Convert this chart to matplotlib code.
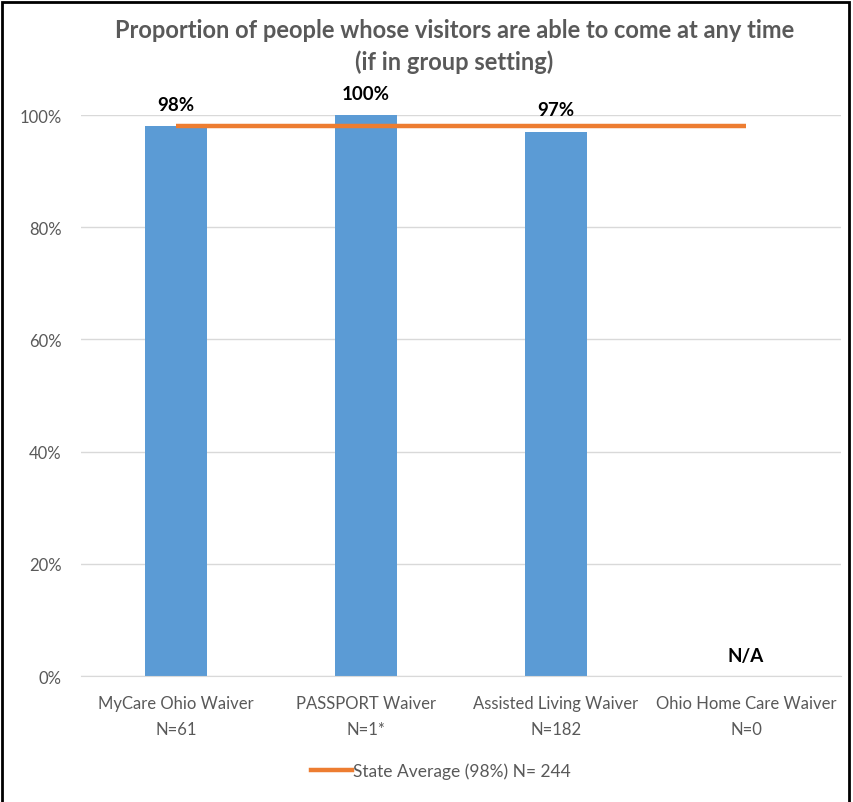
import matplotlib
matplotlib.use("Agg")
import matplotlib.pyplot as plt
from matplotlib.lines import Line2D
from matplotlib.patches import Rectangle

plt.rcParams['font.family'] = ['Lato', 'DejaVu Sans']

categories = ["MyCare Ohio Waiver\nN=61", "PASSPORT Waiver\nN=1*",
              "Assisted Living Waiver\nN=182", "Ohio Home Care Waiver\nN=0"]
values = [0.98, 1.00, 0.97, None]
bar_labels = ["98%", "100%", "97%", "N/A"]
state_avg = 0.98
yticks = [0, 0.2, 0.4, 0.6, 0.8, 1.0]
ytick_labels = ["0%", "20%", "40%", "60%", "80%", "100%"]

fig = plt.figure(figsize=(8.54, 8.03), dpi=100)
ax = fig.add_axes([0.0948, 0.1569, 0.89, 0.6986])

x = list(range(len(categories)))
for i, v in enumerate(values):
    if v is not None:
        ax.bar(i, v, width=0.33, color="#5B9BD5", zorder=2)
        ax.text(i, v + 0.024, bar_labels[i], ha="center", va="bottom",
                fontsize=13.5, fontweight="bold", color="#000000", clip_on=False)
    else:
        ax.text(i, 0.022, bar_labels[i], ha="center", va="bottom",
                fontsize=13.5, fontweight="bold", color="#000000")

ax.plot([x[0], x[-1]], [state_avg, state_avg], color="#ED7D31", lw=3.2,
        solid_capstyle="butt", zorder=3)

ax.set_xlim(-0.5, len(categories) - 0.5)
ax.set_ylim(0, 1)
ax.set_yticks(yticks)
ax.set_yticklabels(ytick_labels)
ax.set_xticks(x)
ax.set_xticklabels(categories, linespacing=1.75)
ax.tick_params(axis="both", length=0, labelsize=12, colors="#595959")
ax.tick_params(axis="x", pad=14)
ax.tick_params(axis="y", pad=14)
ax.grid(axis="y", color="#D9D9D9", lw=1, zorder=0)
for s in ["top", "right", "left"]:
    ax.spines[s].set_visible(False)
ax.spines["bottom"].set_color("#D9D9D9")

fig.text(0.532, 0.962, "Proportion of people whose visitors are able to come at any time",
         ha="center", va="center", fontsize=17, fontweight="bold", color="#595959")
fig.text(0.532, 0.922, "(if in group setting)",
         ha="center", va="center", fontsize=17, fontweight="bold", color="#595959")

handle = Line2D([], [], color="#ED7D31", lw=3.2)
fig.legend([handle], ["State Average (98%) N= 244"], loc="center",
           bbox_to_anchor=(0.516, 0.039), frameon=False, fontsize=12.5,
           handlelength=2.4, handletextpad=0.05, labelcolor="#595959")

fig.patches.append(Rectangle((0.0025, -0.01), 0.992, 1.0065, transform=fig.transFigure,
                             fill=False, edgecolor="black", lw=2))

fig.savefig("out.png", dpi=100)
